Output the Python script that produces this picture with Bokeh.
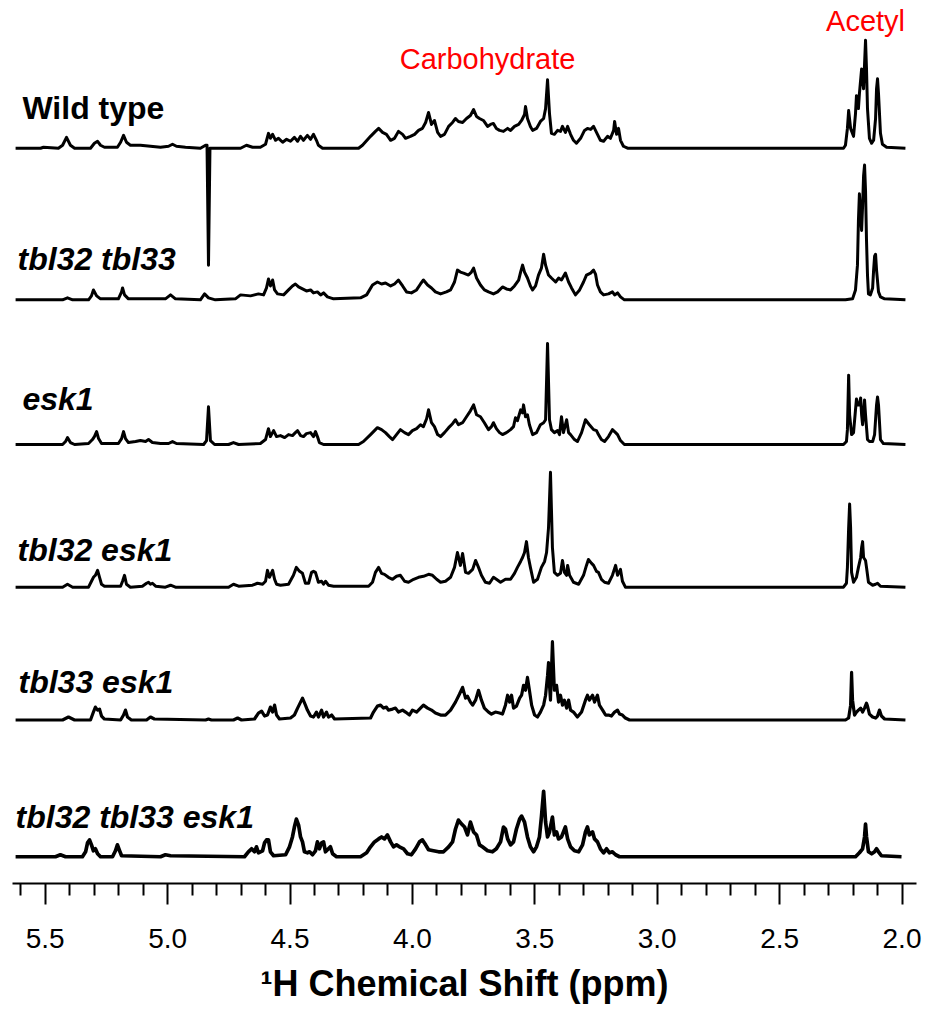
from bokeh.plotting import figure
from bokeh.models import Range1d, LinearAxis, FixedTicker, PrintfTickFormatter, Label
from bokeh.embed import file_html
from bokeh.resources import INLINE

# ---------------- data (ppm, intensity) ----------------
wt_ppm = [5.621,5.519,5.507,5.446,5.429,5.413,5.397,5.380,5.315,5.299,5.286,5.274,5.258,5.205,5.192,5.180,5.168,5.152,5.111,5.070,5.029,4.996,4.980,4.964,4.927,4.866,4.845,4.839,4.833,4.827,4.805,4.702,4.678,4.653,4.621,4.600,4.588,4.580,4.571,4.559,4.547,4.530,4.514,4.498,4.482,4.469,4.457,4.445,4.429,4.416,4.404,4.392,4.384,4.367,4.220,4.204,4.171,4.151,4.138,4.122,4.106,4.089,4.073,4.057,4.040,4.028,4.008,3.991,3.975,3.959,3.946,3.934,3.922,3.910,3.897,3.885,3.869,3.852,3.836,3.824,3.812,3.795,3.779,3.763,3.750,3.738,3.726,3.710,3.693,3.681,3.669,3.657,3.644,3.628,3.611,3.599,3.583,3.566,3.554,3.542,3.538,3.530,3.518,3.509,3.493,3.477,3.464,3.456,3.448,3.440,3.432,3.420,3.407,3.395,3.387,3.375,3.366,3.354,3.342,3.330,3.313,3.297,3.285,3.272,3.260,3.244,3.232,3.219,3.203,3.191,3.178,3.174,3.166,3.158,3.150,3.138,3.121,2.239,2.231,2.223,2.218,2.210,2.198,2.190,2.186,2.182,2.178,2.174,2.165,2.161,2.157,2.153,2.149,2.145,2.141,2.133,2.124,2.116,2.108,2.104,2.100,2.096,2.088,2.080,2.063,1.986]
wt_int = [0,0,1,0,3,11,3,0,0,5,7,3,1,1,6,13,6,3,3,2,1,2,4,2,1,0,3,3,-118,0,0,0,3,1,1,4,15,10,14,8,10,6,9,7,11,7,12,8,13,9,14,8,3,0,0,3,12,17,20,16,14,8,10,17,14,10,12,14,18,20,26,36,24,28,16,12,14,22,26,30,27,26,30,33,39,32,30,28,22,24,25,20,18,17,20,18,22,24,28,34,42,30,22,18,20,27,30,40,69,35,15,14,18,17,22,16,22,14,8,5,10,18,20,19,22,14,8,7,12,10,18,27,14,20,8,2,0,0,3,20,38,20,12,35,53,48,40,55,80,70,60,85,109,80,40,10,5,8,30,60,70,55,15,4,1,0]

t23_ppm = [5.621,5.429,5.409,5.388,5.323,5.311,5.303,5.290,5.274,5.201,5.188,5.184,5.176,5.160,5.009,4.988,4.968,4.866,4.849,4.833,4.805,4.723,4.702,4.661,4.629,4.608,4.596,4.588,4.580,4.571,4.563,4.551,4.526,4.506,4.490,4.478,4.465,4.449,4.433,4.416,4.404,4.388,4.375,4.363,4.347,4.322,4.212,4.187,4.163,4.143,4.126,4.110,4.089,4.073,4.057,4.040,4.024,4.004,3.983,3.967,3.955,3.938,3.922,3.906,3.885,3.861,3.844,3.828,3.816,3.804,3.791,3.771,3.759,3.750,3.738,3.722,3.706,3.689,3.669,3.652,3.632,3.616,3.599,3.583,3.566,3.558,3.550,3.542,3.530,3.518,3.509,3.497,3.485,3.473,3.464,3.456,3.444,3.432,3.415,3.403,3.391,3.375,3.362,3.350,3.334,3.317,3.301,3.289,3.272,3.260,3.252,3.244,3.232,3.219,3.199,3.183,3.174,3.162,3.150,3.134,2.231,2.202,2.190,2.182,2.178,2.174,2.169,2.165,2.161,2.157,2.153,2.149,2.145,2.141,2.137,2.129,2.120,2.116,2.112,2.108,2.104,2.096,2.088,2.071,1.986]
t23_int = [0,0,2,0,0,4,10,4,1,1,8,12,5,1,1,5,1,0,6,2,0,1,5,4,6,5,12,21,14,20,10,6,5,10,14,16,13,11,9,10,7,8,5,7,3,1,2,5,15,18,16,17,14,16,20,14,8,7,10,16,20,15,12,8,6,8,10,18,30,28,27,25,28,32,22,15,10,8,6,8,13,11,10,14,20,28,35,28,22,14,10,14,25,32,46,35,25,22,18,22,20,27,18,12,5,10,18,25,27,30,26,15,8,5,6,8,5,7,3,0,0,1,10,35,80,107,85,70,95,125,136,110,60,25,6,5,12,30,44,46,30,8,3,1,0]

e1_ppm = [5.621,5.429,5.417,5.409,5.397,5.380,5.323,5.307,5.299,5.290,5.282,5.270,5.201,5.188,5.180,5.172,5.160,5.131,5.111,5.090,5.078,5.062,5.029,4.996,4.980,4.964,4.853,4.841,4.833,4.825,4.808,4.751,4.731,4.710,4.621,4.600,4.588,4.580,4.567,4.555,4.539,4.522,4.506,4.490,4.478,4.469,4.457,4.445,4.433,4.416,4.404,4.396,4.388,4.380,4.363,4.220,4.200,4.171,4.143,4.126,4.110,4.094,4.081,4.065,4.049,4.032,4.016,4.000,3.983,3.967,3.955,3.942,3.934,3.922,3.910,3.897,3.885,3.869,3.852,3.836,3.824,3.812,3.795,3.779,3.763,3.750,3.738,3.722,3.706,3.689,3.677,3.669,3.657,3.644,3.632,3.616,3.599,3.587,3.579,3.571,3.558,3.550,3.546,3.538,3.530,3.522,3.509,3.493,3.477,3.464,3.456,3.448,3.440,3.432,3.420,3.407,3.399,3.391,3.383,3.370,3.362,3.354,3.338,3.326,3.309,3.293,3.277,3.260,3.248,3.240,3.228,3.215,3.199,3.183,3.170,3.162,3.150,3.134,2.239,2.227,2.223,2.218,2.214,2.206,2.198,2.190,2.186,2.182,2.174,2.169,2.165,2.161,2.157,2.153,2.149,2.141,2.133,2.120,2.112,2.104,2.100,2.096,2.088,2.076,1.986]
e1_int = [0,0,3,7,2,0,1,5,8,13,6,1,1,6,13,6,2,3,4,3,5,2,1,1,3,1,0,4,38,4,0,0,2,0,1,5,16,8,14,8,9,7,10,9,12,14,9,8,11,12,8,13,8,2,0,0,3,10,17,15,12,8,5,10,15,12,10,14,16,20,18,26,35,22,18,10,8,12,17,21,25,20,22,28,34,40,30,28,22,15,18,22,16,12,10,12,15,18,27,24,35,32,40,28,30,20,10,12,20,22,25,102,25,15,12,14,10,28,12,25,12,10,5,3,12,25,20,15,14,10,5,3,8,15,12,10,4,0,0,3,15,70,30,10,12,35,46,40,40,47,30,20,30,45,30,5,3,3,10,40,48,40,5,1,0]

t2e_ppm = [5.621,5.429,5.409,5.388,5.323,5.311,5.303,5.295,5.286,5.278,5.270,5.258,5.192,5.184,5.176,5.168,5.152,5.103,5.086,5.078,5.070,5.062,5.049,5.009,4.988,4.968,4.751,4.731,4.710,4.653,4.633,4.612,4.600,4.592,4.584,4.571,4.563,4.555,4.539,4.506,4.486,4.474,4.461,4.449,4.437,4.424,4.412,4.404,4.396,4.384,4.371,4.363,4.355,4.343,4.322,4.179,4.163,4.151,4.138,4.126,4.114,4.098,4.081,4.065,4.049,4.032,4.016,3.995,3.975,3.955,3.934,3.918,3.901,3.885,3.865,3.844,3.828,3.816,3.804,3.795,3.783,3.771,3.754,3.742,3.730,3.718,3.702,3.685,3.669,3.657,3.640,3.620,3.599,3.583,3.571,3.558,3.550,3.542,3.534,3.526,3.518,3.505,3.489,3.473,3.460,3.452,3.444,3.436,3.428,3.420,3.407,3.395,3.387,3.379,3.370,3.366,3.358,3.342,3.321,3.301,3.289,3.281,3.268,3.260,3.248,3.240,3.228,3.215,3.199,3.183,3.170,3.162,3.150,3.142,3.130,2.239,2.227,2.223,2.218,2.214,2.210,2.206,2.198,2.186,2.178,2.169,2.165,2.161,2.157,2.149,2.145,2.137,2.120,2.108,2.100,2.088,1.986]
t2e_int = [0,0,3,0,0,6,10,12,17,10,3,1,1,6,12,3,0,1,4,5,3,4,1,0,2,0,0,3,1,2,4,3,6,17,10,17,8,3,2,3,12,20,16,14,4,4,15,16,15,5,6,3,6,2,1,1,5,15,20,14,13,10,8,11,12,6,5,8,10,11,13,12,8,5,6,10,20,35,22,34,15,14,18,27,20,12,5,4,10,8,5,8,8,14,20,26,30,35,46,30,20,5,8,20,26,35,60,116,40,15,12,14,27,15,12,22,12,5,3,12,22,28,24,22,16,15,8,5,4,12,22,12,18,6,0,0,4,20,60,84,60,15,5,10,20,30,40,46,30,27,20,5,2,3,4,1,0]

t3e_ppm = [5.621,5.429,5.405,5.380,5.315,5.303,5.295,5.286,5.278,5.270,5.258,5.192,5.180,5.172,5.164,5.148,5.086,5.070,5.054,4.845,4.833,4.821,4.731,4.714,4.698,4.645,4.629,4.616,4.604,4.592,4.580,4.571,4.563,4.555,4.543,4.498,4.482,4.469,4.457,4.449,4.437,4.429,4.416,4.404,4.392,4.384,4.371,4.363,4.351,4.343,4.330,4.318,4.171,4.159,4.143,4.130,4.118,4.106,4.098,4.081,4.069,4.057,4.040,4.028,4.012,4.000,3.983,3.967,3.955,3.938,3.922,3.906,3.885,3.865,3.844,3.824,3.808,3.795,3.783,3.775,3.763,3.754,3.742,3.730,3.718,3.706,3.689,3.677,3.661,3.644,3.632,3.620,3.611,3.603,3.595,3.587,3.575,3.562,3.554,3.546,3.538,3.530,3.522,3.513,3.501,3.489,3.477,3.464,3.456,3.448,3.444,3.440,3.436,3.428,3.420,3.411,3.403,3.395,3.387,3.379,3.370,3.362,3.354,3.342,3.326,3.309,3.293,3.285,3.277,3.264,3.256,3.244,3.236,3.223,3.211,3.199,3.187,3.174,3.162,3.154,3.142,3.130,3.113,2.231,2.218,2.210,2.206,2.202,2.194,2.186,2.178,2.169,2.161,2.153,2.145,2.141,2.133,2.120,2.108,2.100,2.092,2.084,2.071,1.986]
t3e_int = [0,0,3,0,0,8,13,10,11,4,1,0,5,10,3,0,0,3,1,0,1,0,0,2,0,1,7,9,4,5,13,8,15,5,1,2,5,12,18,22,15,10,4,3,8,3,10,3,8,3,5,1,2,8,14,15,12,13,10,11,12,8,10,8,5,10,8,12,15,12,10,7,5,5,10,18,26,33,22,24,18,15,20,30,20,12,8,6,8,7,6,15,25,18,25,12,14,22,25,35,30,43,30,15,5,3,8,15,25,45,58,35,20,79,30,35,18,25,15,20,12,20,10,8,3,8,20,25,20,25,18,25,15,10,5,5,4,8,10,6,5,2,0,0,2,15,48,20,5,8,10,12,8,12,17,14,6,3,2,4,10,4,1,0]

t23e_ppm = [5.621,5.458,5.438,5.417,5.348,5.335,5.327,5.319,5.311,5.303,5.295,5.286,5.274,5.225,5.213,5.205,5.196,5.188,5.029,5.009,4.988,4.686,4.670,4.657,4.645,4.637,4.629,4.612,4.604,4.596,4.588,4.580,4.567,4.518,4.502,4.490,4.482,4.474,4.465,4.457,4.449,4.441,4.429,4.420,4.408,4.396,4.388,4.380,4.371,4.363,4.355,4.343,4.335,4.326,4.310,4.212,4.187,4.171,4.155,4.138,4.126,4.114,4.102,4.089,4.077,4.065,4.053,4.036,4.020,4.004,3.987,3.971,3.959,3.946,3.934,3.914,3.893,3.873,3.852,3.836,3.824,3.812,3.799,3.787,3.775,3.763,3.750,3.738,3.726,3.714,3.693,3.673,3.657,3.640,3.628,3.620,3.611,3.599,3.587,3.575,3.562,3.554,3.542,3.530,3.518,3.505,3.493,3.481,3.473,3.464,3.456,3.448,3.440,3.428,3.420,3.411,3.403,3.391,3.383,3.375,3.366,3.354,3.338,3.321,3.305,3.293,3.285,3.277,3.264,3.256,3.244,3.232,3.219,3.207,3.195,3.183,3.170,3.154,2.190,2.174,2.161,2.153,2.149,2.145,2.137,2.124,2.112,2.104,2.096,2.084,2.002]
t23e_int = [0,0,2,0,0,5,14,17,12,6,8,3,0,0,6,12,6,1,0,2,1,0,5,8,5,10,4,6,14,17,17,5,1,2,10,20,30,38,32,20,15,5,4,5,2,6,15,8,14,15,5,8,10,3,0,0,4,10,15,18,20,18,22,15,10,12,10,8,3,2,8,15,17,12,7,6,5,5,10,15,28,37,33,30,22,35,25,22,12,10,6,5,8,15,30,28,18,12,15,28,38,41,35,20,10,5,10,20,40,66,35,20,25,40,22,25,18,20,25,30,18,10,6,5,12,25,30,22,25,18,15,8,4,8,4,5,2,0,0,4,8,20,33,20,5,3,5,8,5,1,0]

sample_names = ["Wild type", "tbl32 tbl33", "esk1", "tbl32 esk1", "tbl33 esk1", "tbl32 tbl33 esk1"]
region_names = ["Carbohydrate", "Acetyl"]
axis_title = "\u00b9H Chemical Shift (ppm)"
major_ticks = [5.5, 5.0, 4.5, 4.0, 3.5, 3.0, 2.5, 2.0]
minor_ticks = [5.6, 5.4, 5.3, 5.2, 5.1, 4.9, 4.8, 4.7, 4.6, 4.4, 4.3, 4.2, 4.1,
               3.9, 3.8, 3.7, 3.6, 3.4, 3.3, 3.2, 3.1, 2.9, 2.8, 2.7, 2.6,
               2.4, 2.3, 2.2, 2.1]

# ---------------- figure ----------------
p = figure(width=925, height=1006, output_backend="svg", toolbar_location=None,
           x_range=Range1d(5.6336, 1.9408), y_range=Range1d(0, 883),
           x_axis_type=None, y_axis_type=None,
           min_border_left=12, min_border_right=9, min_border_top=8, min_border_bottom=115)
p.outline_line_color = None
p.xgrid.visible = False
p.ygrid.visible = False
p.background_fill_color = "white"

series = [(wt_ppm, wt_int), (t23_ppm, t23_int), (e1_ppm, e1_int),
          (t2e_ppm, t2e_int), (t3e_ppm, t3e_int), (t23e_ppm, t23e_int)]
offsets = [742, 589, 443, 299, 165, 27]
widths = [3.0, 3.0, 3.0, 3.0, 3.2, 3.7]
for (xs, ys), off, lw in zip(series, offsets, widths):
    p.line(xs, [v + off for v in ys], line_color="black", line_width=lw, line_join="round")

ax = LinearAxis(ticker=FixedTicker(ticks=major_ticks, minor_ticks=minor_ticks),
                formatter=PrintfTickFormatter(format="%.1f"))
ax.axis_line_width = 2
ax.axis_line_color = "black"
ax.major_tick_line_width = 2
ax.minor_tick_line_width = 2
ax.major_tick_in = 0
ax.major_tick_out = 21
ax.minor_tick_in = 0
ax.minor_tick_out = 12
ax.major_label_standoff = 24
ax.major_label_text_font = "Liberation Sans"
ax.major_label_text_font_size = "28px"
ax.major_label_text_color = "black"
ax.axis_label = axis_title
ax.axis_label_text_font = "Liberation Sans"
ax.axis_label_text_font_size = "36px"
ax.axis_label_text_font_style = "bold"
ax.axis_label_text_color = "black"
ax.axis_label_standoff = 12
p.add_layout(ax, "below")

# sample labels
lab_pos = [(5.593, 783, "bold"), (5.613, 630, "bold italic"), (5.593, 489, "bold italic"),
           (5.613, 337, "bold italic"), (5.609, 203, "bold italic"), (5.621, 67, "bold italic")]
for name, (lx, ly, st) in zip(sample_names, lab_pos):
    p.add_layout(Label(x=lx, y=ly, text=name, text_font="Liberation Sans", text_font_size="32px",
                       text_font_style=st, text_color="black", text_baseline="alphabetic",
                       text_align="left"))

# region labels
p.add_layout(Label(x=3.693, y=832, text=region_names[0], text_font="Liberation Sans",
                   text_font_size="29px", text_color="#FF0000", text_align="center",
                   text_baseline="alphabetic"))
p.add_layout(Label(x=2.149, y=870, text=region_names[1], text_font="Liberation Sans",
                   text_font_size="29px", text_color="#FF0000", text_align="center",
                   text_baseline="alphabetic"))

open("out.html", "w").write(file_html(p, INLINE))
